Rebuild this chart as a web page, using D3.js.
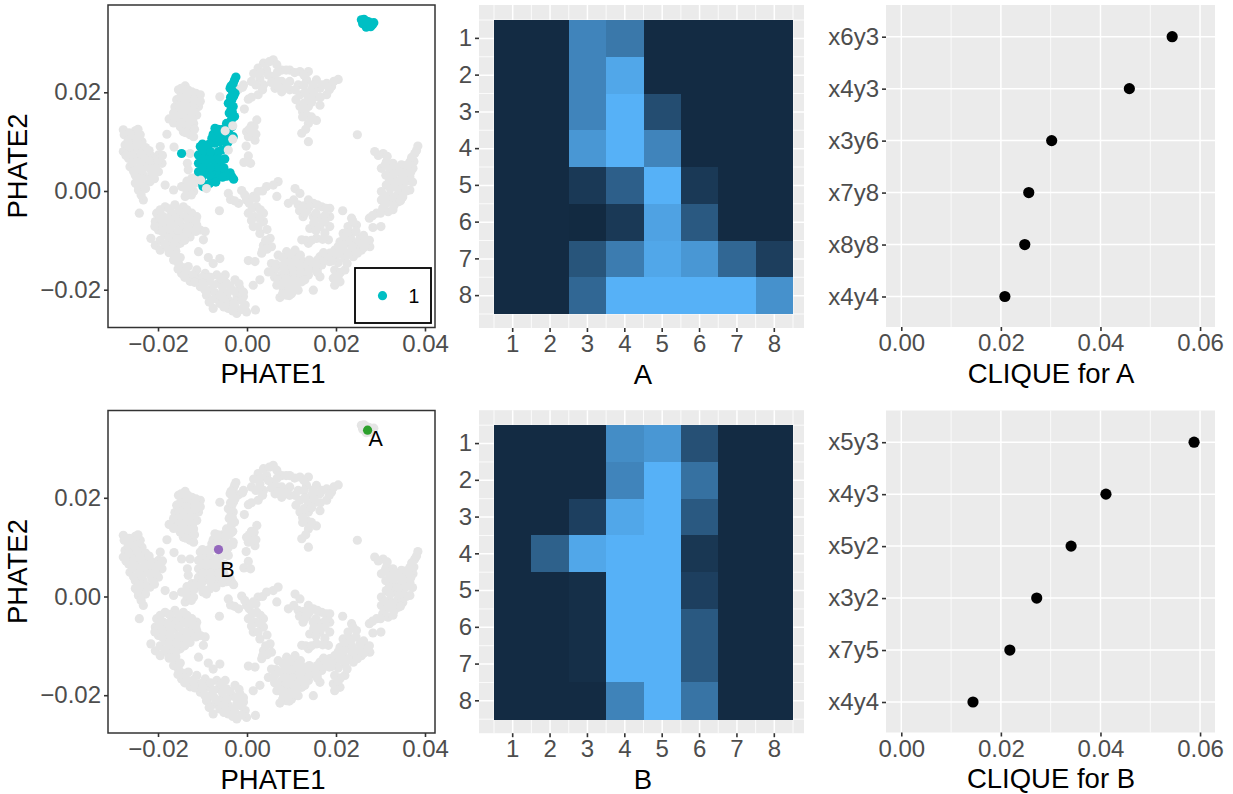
<!DOCTYPE html>
<html><head><meta charset="utf-8">
<script src="https://cdn.jsdelivr.net/npm/d3@7"></script>
<style>
html,body{margin:0;padding:0;background:#fff;}
svg{display:block;font-family:"Liberation Sans",Arial,sans-serif;}
</style></head><body>
<svg id="c" width="1233" height="794"></svg>
<script>
// PHATE coordinates, in units of 1e-4
const cloudTopIsland=[[257,347],[260,343],[269,340],[278,339],[285,341],[272,335],[263,348],[275,342],[282,337],[268,332],[265,337],[260,339],[275,335],[278,333],[270,344]];
const cloudStrip=[[-25,231],[-31,218],[-38,208],[-27,198],[-34,185],[-42,178],[-31,171],[-40,158],[-28,151],[-46,137],[-34,130],[-72,127],[-61,120],[-31,110],[-49,117],
[-28,225],[-36,213],[-33,203],[-30,192],[-37,190],[-36,165],[-33,160],[-35,145],[-40,132],[-55,125],[-65,125],[-40,125],[-50,110],[-42,100],[-60,100],[-45,95]];
const cloudMain=[[-105,90],[-91,83],[-72,97],[-53,103],[-68,110],[-79,107],[-109,73],[-91,70],[-72,73],[-57,83],[-57,63],[-109,56],[-91,53],[-72,56],[-109,39],[-91,36],[-72,39],[-53,36],[-34,29],[-38,37],[-68,26],[-99,9],[-147,76],
[-100,80],[-82,80],[-64,80],[-100,65],[-82,65],[-64,65],[-50,65],[-100,47],[-82,47],[-64,47],[-52,47],[-100,30],[-82,30],[-62,30],[-46,30],[-100,15],[-84,15],[-70,18],[-85,95],[-60,108],[-76,115],[-66,120],[-100,95],[-45,31],[-30,24],[-55,28]];
const cloudOverlay=[[-49,122],[-32,132],[-32,105],[-42,83],[-104,22],[-91,5]];
const cloudRest=[
[-124,26],[-134,56],[-132,43],[-128,76],[-164,89],
[-139,213],[-154,205],[-124,201],[-105,195],[-143,195],[-158,185],[-128,185],[-147,181],[-109,171],[-162,170],[-143,168],[-124,168],[-147,154],[-128,154],[-113,154],[-175,146],[-158,144],[-135,141],[-120,137],[-150,130],[-132,127],[-143,120],[-128,114],[-120,110],[-180,115],
[-148,208],[-133,205],[-115,198],[-135,195],[-150,190],[-118,185],[-138,182],[-152,172],[-135,172],[-118,175],[-105,182],[-155,160],[-137,160],[-120,160],[-165,158],[-140,148],[-122,146],[-165,138],[-148,138],[-130,135],[-118,125],[-137,118],
[-278,124],[-276,114],[-251,122],[-240,114],[-259,110],[-274,93],[-255,97],[-236,100],[-278,80],[-259,80],[-240,83],[-266,66],[-248,63],[-229,70],[-214,70],[-195,90],[-199,73],[-263,49],[-244,46],[-225,53],[-206,56],[-191,56],[-251,32],[-233,32],[-214,36],[-199,39],[-251,16],[-236,12],[-218,19],[-244,2],[-233,-18],[-184,12],[-165,2],[-242,-45],
[-265,118],[-245,125],[-267,103],[-248,105],[-265,88],[-247,92],[-228,88],[-272,72],[-255,72],[-238,75],[-220,82],[-257,57],[-238,57],[-218,60],[-200,62],[-255,40],[-236,42],[-218,45],[-205,46],[-242,24],[-225,22],[-208,25],[-245,10],[-228,5],[-190,72],[-238,-8],
[-147,9],[-128,12],[-139,-11],[-120,-1],[-135,20],[-118,15],[-135,0],[-125,-8],[-112,30],
[-203,-45],[-184,-32],[-162,-28],[-143,-32],[-124,-45],[-206,-62],[-188,-52],[-169,-45],[-150,-49],[-132,-59],[-113,-52],[-113,-69],[-199,-79],[-180,-72],[-162,-66],[-143,-72],[-124,-79],[-105,-79],[-94,-82],[-184,-89],[-165,-86],[-147,-89],[-128,-93],[-98,-99],[-169,-103],[-150,-106],[-216,-96],[-206,-110],[-195,-120],[-177,-116],
[-195,-38],[-175,-36],[-153,-38],[-135,-38],[-195,-55],[-178,-55],[-160,-55],[-140,-53],[-122,-60],[-207,-72],[-190,-68],[-172,-64],[-152,-62],[-133,-72],[-115,-60],[-190,-82],[-172,-80],[-155,-80],[-135,-85],[-115,-82],[-175,-95],[-157,-97],[-140,-100],[-195,-100],[-185,-108],[-160,-112],[-175,-125],[-160,-122],
[-162,-130],[-154,-147],[-147,-167],[-132,-153],[-128,-183],[-113,-160],[-94,-167],[-109,-177],[-91,-184],[-68,-170],[-49,-170],[-105,-194],[-83,-201],[-64,-187],[-46,-187],[-27,-180],[-16,-197],[-91,-211],[-72,-218],[-53,-204],[-34,-201],[-8,-214],[-76,-238],[-61,-228],[-42,-221],[-23,-218],[-4,-231],[-42,-238],[-23,-248],[-1,-245],[19,-241],[-109,-123],[-87,-135],[-61,-137],[-76,-147],[3,-141],[18,-143],[-62,-40],
[-165,-140],[-150,-135],[-145,-155],[-155,-158],[-138,-165],[-122,-170],[-140,-175],[-118,-185],[-100,-175],[-82,-175],[-58,-178],[-100,-187],[-75,-190],[-55,-195],[-38,-193],[-18,-188],[-95,-200],[-72,-206],[-45,-208],[-25,-205],[-8,-205],[-82,-222],[-62,-212],[-52,-220],[-30,-228],[-12,-222],[-52,-235],[-32,-243],[-12,-240],[-28,-232],[-85,-225],
[-42,-5],[-37,-17],[-19,-25],[-12,1],[-1,-18],[14,-11],[25,-1],[44,9],[70,19],[59,12],[3,-45],[22,-32],[18,-52],[37,-45],[14,-72],[37,-62],[29,-86],[52,-96],[37,-110],[33,-126],[55,-113],[67,-11],[93,-25],[108,5],[119,-5],[115,-28],[138,-18],[126,-52],[149,-25],[168,-32],[186,-35],[215,-40],[149,-52],[164,-55],[186,-52],[141,-76],[164,-72],[186,-72],[123,-99],[138,-106],[156,-96],[183,-99],
[-28,-20],[-5,-8],[5,-25],[20,-15],[35,0],[12,-35],[30,-38],[10,-60],[28,-55],[25,-72],[45,-78],[42,-100],[45,-118],[35,-120],[105,-18],[128,-30],[140,-32],[158,-28],[178,-35],[135,-40],[118,-40],[130,-45],[155,-45],[175,-50],[175,-62],[150,-65],[155,-80],[175,-85],[132,-100],[145,-100],[170,-98],
[89,-123],[108,-120],[70,-130],[89,-140],[108,-137],[126,-143],[55,-147],[48,-164],[74,-153],[93,-157],[111,-157],[130,-153],[149,-150],[78,-170],[96,-174],[115,-174],[138,-170],[67,-191],[85,-187],[104,-187],[123,-184],[82,-201],[100,-208],[115,-201],[74,-216],[89,-211],[149,-201],[164,-133],[168,-150],[164,-174],[29,-180],[14,-191],
[98,-128],[80,-135],[98,-148],[117,-148],[65,-148],[82,-150],[102,-165],[122,-165],[140,-160],[158,-158],[62,-160],[85,-165],[62,-175],[70,-180],[88,-178],[105,-180],[130,-180],[76,-190],[94,-195],[110,-192],[90,-203],[105,-197],[80,-208],[158,-140],[172,-140],[140,-140],[158,-165],[120,-130],[95,-212],
[235,-55],[246,-69],[227,-72],[216,-86],[235,-86],[254,-96],[209,-103],[227,-103],[246,-110],[269,-103],[276,-113],[197,-120],[216,-120],[235,-120],[257,-120],[179,-133],[197,-133],[220,-137],[239,-133],[220,-160],[197,-160],[194,-177],[209,-184],[197,-191],[186,-126],
[238,-62],[225,-85],[245,-82],[262,-90],[235,-100],[218,-95],[258,-107],[218,-110],[237,-112],[262,-115],[205,-112],[195,-130],[208,-128],[228,-128],[248,-126],[185,-143],[205,-145],[225,-147],[172,-125],[210,-165],[205,-172],[190,-142],[275,-100],
[384,91],[377,76],[287,80],[306,76],[313,59],[328,56],[366,59],[347,53],[302,46],[321,43],[340,39],[358,43],[373,46],[328,26],[347,26],[366,29],[313,12],[332,9],[351,12],[366,2],[302,-1],[321,-8],[340,-5],[302,-18],[321,-22],[340,-22],[317,-42],[291,-45],[275,-55],[283,-74],[301,-72],[248,114],
[295,72],[315,70],[358,52],[375,60],[381,82],[370,68],[332,48],[310,52],[312,32],[330,35],[350,36],[368,38],[320,20],[338,18],[358,20],[372,18],[322,5],[342,2],[358,0],[310,-10],[330,-15],[350,-12],[310,-28],[330,-30],[305,-35],[328,-38],[282,-50],[300,-45],[345,-20],
[59,266],[37,259],[25,249],[44,245],[67,256],[78,245],[59,232],[96,245],[119,242],[138,242],[29,228],[10,222],[-8,215],[-19,206],[37,215],[63,208],[78,222],[96,222],[78,201],[96,205],[115,215],[134,225],[156,225],[179,218],[205,226],[190,212],[164,208],[145,205],[119,195],[138,188],[156,191],[179,195],[3,186],[25,195],[164,174],[119,171],[138,171],[134,154],[156,143],[138,137],[123,117],[138,100],[-61,191],[-6,166],
[50,262],[30,240],[48,235],[68,240],[88,245],[107,240],[128,235],[70,222],[88,210],[108,205],[128,215],[148,215],[168,215],[195,222],[150,198],[165,190],[130,200],[185,205],[110,185],[128,178],[145,180],[125,160],[145,150],[132,125],[55,220],[20,215],[15,238],[35,205],[10,190],[-10,210],[70,212],[125,150],
[22,144],[10,132],[-1,120],[14,120],[3,110],[18,103],[-2,91],[3,71],[-7,58],[8,56],[16,130],[5,125],[10,112],[20,115]
];
const markedPoints=[{name:"A",x:271,y:337,color:"#2ca02c"},{name:"B",x:-64,y:95,color:"#9467bd"}];
const legendLabels=["1"];
const gridLabels=[1,2,3,4,5,6,7,8];
const heatA=[
[0,0,.69,.6,0,0,0,0],
[0,0,.69,.93,0,0,0,0],
[0,0,.69,1,.28,0,0,0],
[0,0,.82,1,.69,0,0,0],
[0,0,.12,.42,1,.12,0,0],
[0,0,-.01,.12,.9,.37,0,0],
[0,0,.34,.63,.93,.82,.48,.16],
[0,0,.48,1,1,1,1,.78]];
const heatB=[
[0,0,0,.75,.82,.3,0,0],
[0,0,0,.69,1,.55,0,0],
[0,0,.17,.93,1,.37,0,0],
[0,.43,.93,1,1,.1,0,0],
[0,0,.03,1,1,.17,0,0],
[0,0,.03,1,1,.37,0,0],
[0,0,.03,1,1,.37,0,0],
[0,0,0,.68,1,.57,0,0]];
const cliqueALabels=["x6y3","x4y3","x3y6","x7y8","x8y8","x4y4"];
const cliqueAValues=[.0544,.0458,.0302,.0256,.0248,.0208];
const cliqueBLabels=["x5y3","x4y3","x5y2","x3y2","x7y5","x4y4"];
const cliqueBValues=[.0588,.0411,.0341,.0272,.0218,.0144];
const phateTicksX=[-.02,0,.02,.04];
const phateTicksY=[-.02,0,.02];
const cliqueTicks=[0,.02,.04,.06];
const cliqueMinor=[.01,.03,.05];

const svg=d3.select("#c");
const GREY="#ebebeb",TICK="#333333",LAB="#4d4d4d",TS=24,TT=27.5;
const heatColor=d3.scaleLinear().domain([0,1]).range(["#132B43","#56B1F7"]).interpolate(d3.interpolateLab);

function styleAxis(g,w){
  g.select(".domain").remove();
  g.selectAll("line").attr("stroke",TICK).attr("stroke-width",w||1.6);
  g.selectAll("text").attr("fill",LAB).style("font-size",TS+"px");
}
function axisTitle(g,txt,x,y,rot){
  const t=g.append("text").attr("text-anchor","middle").attr("fill","#000").style("font-size",TT+"px").text(txt);
  if(rot) t.attr("transform",`translate(${x},${y}) rotate(-90)`); else t.attr("x",x).attr("y",y);
}

function scatter(top,mode){
  const W=327,H=322.5,R=4.6;
  const g=svg.append("g").attr("transform",`translate(108,${top})`);
  const x=d3.scaleLinear().domain([-.03124,.04225]).range([0,W]);
  const y=d3.scaleLinear().domain([-.02766,.03769]).range([H,0]);
  const dot=(sel,data,fill)=>sel.selectAll(null).data(data).enter().append("circle")
    .attr("cx",d=>x(d[0]/1e4)).attr("cy",d=>y(d[1]/1e4)).attr("r",R).attr("fill",fill);
  const clip="clip"+Math.round(top);
  g.append("clipPath").attr("id",clip).append("rect").attr("width",W).attr("height",H);
  const m=g.append("g").attr("clip-path",`url(#${clip})`);
  dot(m,cloudRest,"#e5e5e5");
  if(mode==="cluster"){
    dot(m,cloudTopIsland.concat(cloudStrip,cloudMain),"#00BFC4");
    dot(m,cloudOverlay,"#e5e5e5");
  }else{
    dot(m,cloudTopIsland.concat(cloudStrip,cloudMain,cloudOverlay),"#e5e5e5");
    markedPoints.forEach(p=>{
      m.append("circle").attr("cx",x(p.x/1e4)).attr("cy",y(p.y/1e4)).attr("r",R).attr("fill",p.color);
    });
    g.append("text").attr("x",x(markedPoints[0].x/1e4)+8).attr("y",y(markedPoints[0].y/1e4)+16).attr("text-anchor","middle").style("font-size","21.5px").attr("fill","#000").text("A");
    g.append("text").attr("x",x(markedPoints[1].x/1e4)+9).attr("y",y(markedPoints[1].y/1e4)+27).attr("text-anchor","middle").style("font-size","21.5px").attr("fill","#000").text("B");
  }
  g.append("rect").attr("width",W).attr("height",H).attr("fill","none").attr("stroke",TICK).attr("stroke-width",1.5);
  const ax=g.append("g").attr("transform",`translate(0,${H})`).call(d3.axisBottom(x).tickValues(phateTicksX).tickFormat(d3.format(".2f")).tickSize(4).tickPadding(3));
  styleAxis(ax);
  const ay=g.append("g").call(d3.axisLeft(y).tickValues(phateTicksY).tickFormat(d3.format(".2f")).tickSize(4).tickPadding(3));
  styleAxis(ay);
  axisTitle(g,"PHATE1",165,H+55.5);
  axisTitle(g,"PHATE2",-81,161,true);
  if(mode==="cluster"){
    const lg=g.append("g").attr("transform","translate(247,263)");
    lg.append("rect").attr("width",76).attr("height",55).attr("fill","#fff").attr("stroke","#000").attr("stroke-width",1.8);
    lg.append("circle").attr("cx",27.5).attr("cy",27.7).attr("r",R).attr("fill","#00BFC4");
    lg.append("text").attr("x",59).attr("y",34.5).style("font-size","19.5px").attr("fill","#000").attr("text-anchor","middle").text(legendLabels[0]);
  }
}

function heatmap(top,data,title){
  const W=325,H=323;
  const g=svg.append("g").attr("transform",`translate(479,${top})`);
  g.append("rect").attr("width",W).attr("height",H).attr("fill",GREY);
  const x=d3.scaleBand().domain(gridLabels).range([15,314]);
  const y=d3.scaleBand().domain(gridLabels).range([15,309]);
  gridLabels.forEach(v=>{
    g.append("line").attr("x1",x(v)+x.bandwidth()/2).attr("x2",x(v)+x.bandwidth()/2).attr("y1",0).attr("y2",H).attr("stroke","#fff").attr("stroke-width",1.5);
    g.append("line").attr("y1",y(v)+y.bandwidth()/2).attr("y2",y(v)+y.bandwidth()/2).attr("x1",0).attr("x2",W).attr("stroke","#fff").attr("stroke-width",1.5);
    g.append("line").attr("x1",x(v)).attr("x2",x(v)).attr("y1",0).attr("y2",H).attr("stroke","#fff").attr("stroke-width",.8);
    g.append("line").attr("y1",y(v)).attr("y2",y(v)).attr("x1",0).attr("x2",W).attr("stroke","#fff").attr("stroke-width",.8);
  });
  g.append("line").attr("x1",314).attr("x2",314).attr("y1",0).attr("y2",H).attr("stroke","#fff").attr("stroke-width",.8);
  g.append("line").attr("y1",309).attr("y2",309).attr("x1",0).attr("x2",W).attr("stroke","#fff").attr("stroke-width",.8);
  data.forEach((row,i)=>row.forEach((v,j)=>{
    g.append("rect").attr("x",x(gridLabels[j])).attr("y",y(gridLabels[i])).attr("width",x.bandwidth()+.3).attr("height",y.bandwidth()+.3).attr("fill",heatColor(v)).attr("shape-rendering","crispEdges");
  }));
  styleAxis(g.append("g").attr("transform",`translate(0,${H})`).call(d3.axisBottom(x).tickSize(4).tickPadding(3)));
  styleAxis(g.append("g").call(d3.axisLeft(y).tickSize(4).tickPadding(3)));
  axisTitle(g,title,164,H+55.5);
}

function dots(top,labels,values,title){
  const W=329,H=322;
  const g=svg.append("g").attr("transform",`translate(886,${top})`);
  g.append("rect").attr("width",W).attr("height",H).attr("fill",GREY);
  const x=d3.scaleLinear().domain([-.00307,.0630]).range([0,W]);
  const y=d3.scalePoint().domain(labels).range([31.7,291.5]);
  cliqueMinor.forEach(v=>g.append("line").attr("x1",x(v)).attr("x2",x(v)).attr("y2",H).attr("stroke","#fff").attr("stroke-width",.8));
  cliqueTicks.forEach(v=>g.append("line").attr("x1",x(v)).attr("x2",x(v)).attr("y2",H).attr("stroke","#fff").attr("stroke-width",1.5));
  labels.forEach(v=>g.append("line").attr("y1",y(v)).attr("y2",y(v)).attr("x2",W).attr("stroke","#fff").attr("stroke-width",1.5));
  g.selectAll(null).data(labels).enter().append("circle").attr("cx",(d,i)=>x(values[i])).attr("cy",d=>y(d)).attr("r",5.6).attr("fill","#000");
  styleAxis(g.append("g").attr("transform",`translate(0,${H})`).call(d3.axisBottom(x).tickValues(cliqueTicks).tickFormat(d3.format(".2f")).tickSize(4).tickPadding(3)));
  styleAxis(g.append("g").call(d3.axisLeft(y).tickSize(4).tickPadding(3)));
  axisTitle(g,title,165,H+55.5);
}

scatter(5,"cluster");
scatter(410.5,"marks");
heatmap(5,heatA,"A");
heatmap(410.2,heatB,"B");
dots(5,cliqueALabels,cliqueAValues,"CLIQUE for A");
dots(410.5,cliqueBLabels,cliqueBValues,"CLIQUE for B");
</script>
</body></html>
